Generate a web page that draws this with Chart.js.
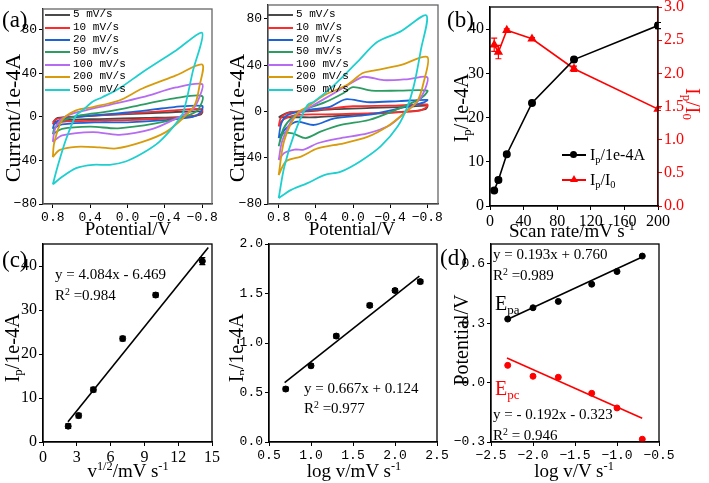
<!DOCTYPE html>
<html>
<head>
<meta charset="utf-8">
<script src="https://cdn.jsdelivr.net/npm/chart.js@4.4.0/dist/chart.umd.min.js"></script>
<style>
body{margin:0;background:#fff;width:709px;height:483px;position:relative;overflow:hidden;font-family:'Liberation Serif',serif}
canvas{position:absolute}
.t{position:absolute;white-space:nowrap;line-height:1;color:#000}
.c{transform:translate(-50%,-50%)}
.r{transform:translate(-50%,-50%) rotate(-90deg)}
.rr{transform:translate(-50%,-50%) rotate(90deg)}
.sb{font-size:0.65em;vertical-align:-0.3em}
.sp{font-size:0.65em;vertical-align:0.55em}
.lg{position:absolute;font-family:'Liberation Mono',monospace;font-size:11px;line-height:1;white-space:nowrap}
.ln{position:absolute;height:2px}
.clip{position:absolute;overflow:hidden}
</style>
</head>
<body>
<canvas id="cA1"></canvas>
<canvas id="cA2"></canvas>
<canvas id="cB"></canvas>
<canvas id="cC"></canvas>
<canvas id="cM"></canvas>
<canvas id="cD"></canvas>

<!-- panel labels and axis titles -->
<div class="t" style="left:2px;top:8px;font-size:23px">(a)</div>
<div class="t r" style="left:13px;top:118px;font-size:22px">Current/1e-4A</div>
<div class="t c" style="left:128px;top:228px;font-size:19px">Potential/V</div>
<div class="clip" style="left:220px;top:20px;width:24px;height:200px">
  <div class="t r" style="left:17px;top:98px;font-size:22px">Current/1e-4A</div>
</div>
<div class="t c" style="left:352px;top:228px;font-size:19px">Potential/V</div>

<div class="t" style="left:447px;top:8px;font-size:23px">(b)</div>
<div class="t r" style="left:462px;top:108px;font-size:20px">I<span class="sb">p</span>/1e-4A</div>
<div class="t rr" style="left:692px;top:104px;font-size:20px;color:#f00">I<span class="sb">p</span>/I<span class="sb">0</span></div>
<div class="t c" style="left:572px;top:230px;font-size:19px">Scan rate/mV s<span class="sp">-1</span></div>

<div class="t" style="left:2px;top:248px;font-size:23px">(c)</div>
<div class="t r" style="left:13px;top:348px;font-size:20px">I<span class="sb">p</span>/1e-4A</div>
<div class="t c" style="left:128px;top:470px;font-size:19px">v<span class="sp">1/2</span>/mV s<span class="sp">-1</span></div>
<div class="t" style="left:55px;top:267px;font-size:15px">y = 4.084x - 6.469</div>
<div class="t" style="left:55px;top:287px;font-size:15px">R<span class="sp">2</span> =0.984</div>

<div class="clip" style="left:220px;top:260px;width:24px;height:200px">
  <div class="t r" style="left:17px;top:88px;font-size:20px">I<span class="sb">p</span>/1e-4A</div>
</div>
<div class="t c" style="left:354px;top:470px;font-size:19px">log v/mV s<span class="sp">-1</span></div>
<div class="t" style="left:304px;top:381px;font-size:15px">y = 0.667x + 0.124</div>
<div class="t" style="left:304px;top:400px;font-size:15px">R<span class="sp">2</span> =0.977</div>

<div class="t" style="left:440px;top:246px;font-size:23px">(d)</div>
<div class="t r" style="left:461px;top:340px;font-size:20px">Potential/V</div>
<div class="t c" style="left:574px;top:470px;font-size:19px">log v/V s<span class="sp">-1</span></div>
<div class="t" style="left:493px;top:247px;font-size:15px">y = 0.193x + 0.760</div>
<div class="t" style="left:493px;top:267px;font-size:15px">R<span class="sp">2</span> =0.989</div>
<div class="t" style="left:495px;top:293px;font-size:20px">E<span class="sb">pa</span></div>
<div class="t" style="left:495px;top:378px;font-size:20px;color:#f00">E<span class="sb">pc</span></div>
<div class="t" style="left:493px;top:407px;font-size:15px">y = - 0.192x - 0.323</div>
<div class="t" style="left:493px;top:427px;font-size:15px">R<span class="sp">2</span> = 0.946</div>

<div id="legA1"></div>
<div id="legA2"></div>

<!-- panel b legend -->
<div class="ln" style="left:562px;top:154px;width:24px;background:#000"></div>
<div style="position:absolute;left:570px;top:151px;width:7px;height:7px;border-radius:50%;background:#000"></div>
<div class="t" style="left:590px;top:147px;font-size:16px">I<span class="sb">p</span>/1e-4A</div>
<div class="ln" style="left:562px;top:179px;width:24px;background:#f00"></div>
<div style="position:absolute;left:570px;top:175px;width:0;height:0;border-left:4px solid transparent;border-right:4px solid transparent;border-bottom:7px solid #f00"></div>
<div class="t" style="left:590px;top:172px;font-size:16px">I<span class="sb">p</span>/I<span class="sb">0</span></div>

<script>
// ---- (a) cyclic voltammograms, [potential V, current 1e-4A] ----
const cvLabels = ['5 mV/s', '10 mV/s', '20 mV/s', '50 mV/s', '100 mV/s', '200 mV/s', '500 mV/s'];
const cvColors = ['#4a4a4a', '#ff2b2b', '#1b63d6', '#2b9c62', '#b56cf0', '#d89b0c', '#1fcfcf'];

const cvL5 = [[0.8,-5],[0.7,-3],[0.3,-2],[-0.2,-1],[-0.6,0],[-0.78,2],[-0.8,5],[-0.4,4],[0,2.5],[0.5,0.5],[0.75,-1],[0.8,-5]];
const cvL10 = [[0.8,-7],[0.7,-4.5],[0.3,-3.5],[0,-3],[-0.4,-1.5],[-0.7,0.5],[-0.78,3],[-0.8,7],[-0.5,6],[0,3],[0.4,1],[0.7,-1],[0.78,-3],[0.8,-7]];
const cvL20 = [[0.8,-11],[0.7,-7],[0.3,-5],[0,-5],[-0.4,-3],[-0.7,0],[-0.78,4],[-0.8,10],[-0.5,9],[-0.3,7],[0,4],[0.4,1],[0.7,-2],[0.78,-6],[0.8,-11]];
const cvL50 = [[0.8,-16],[0.7,-11],[0.4,-9],[0.1,-10.5],[-0.3,-6],[-0.6,0],[-0.75,6],[-0.8,19],[-0.5,17],[-0.2,12],[0.2,5],[0.5,1.5],[0.7,-4],[0.78,-10],[0.8,-16]];
const cvL100 = [[0.8,-23],[0.7,-17],[0.37,-14],[0.09,-16.5],[-0.27,-11],[-0.52,-1.5],[-0.7,7],[-0.77,18],[-0.8,30],[-0.52,27],[-0.16,18],[0.19,11],[0.45,6],[0.62,2],[0.72,-3],[0.78,-12],[0.8,-23]];
const cvL200 = [[0.8,-37],[0.73,-30.5],[0.55,-27.5],[0.3,-28],[0.12,-29],[-0.16,-23],[-0.41,-14],[-0.59,-1.5],[-0.72,11],[-0.77,28],[-0.8,48],[-0.52,38],[-0.16,26],[0.09,15],[0.37,9],[0.55,6],[0.7,-3],[0.785,-24],[0.8,-37]];
const cvL500 = [[0.8,-62],[0.7,-55],[0.55,-47],[0.37,-44],[0.19,-44],[0.02,-41],[-0.16,-33.5],[-0.34,-23],[-0.52,-6],[-0.6,5],[-0.7,42],[-0.8,77],[-0.52,61],[-0.16,41],[0.09,26],[0.27,18],[0.37,14],[0.48,6],[0.55,1.5],[0.66,-21],[0.75,-46],[0.8,-62]];

const cvR5 = [[0.8,-5],[0.6,-5],[0.4,-5],[0.2,-4],[-0.2,-2],[-0.6,0],[-0.78,2],[-0.8,5],[-0.6,4],[-0.2,3],[0.2,2],[0.5,0],[0.7,-1],[0.8,-5]];
const cvR10 = [[0.8,-13],[0.75,-7],[0.6,-3],[0.3,-2.5],[0,-2],[-0.4,-1],[-0.7,0.5],[-0.78,3],[-0.8,6],[-0.4,5],[0,4.5],[0.3,2],[0.6,0],[0.72,-2],[0.78,-6],[0.8,-13]];
const cvR20 = [[0.8,-23],[0.72,-14.5],[0.6,-8.8],[0.42,-11.7],[0.2,-5.9],[-0.155,-3],[-0.51,2.8],[-0.68,6],[-0.77,8],[-0.8,10],[-0.5,9],[-0.15,8],[0.08,10.5],[0.25,4],[0.5,1],[0.7,-3],[0.77,-10],[0.8,-23]];
const cvR50 = [[0.8,-30],[0.75,-19],[0.65,-19],[0.51,-23],[0.35,-17.5],[0.13,-11.7],[-0.17,-7.4],[-0.46,1.3],[-0.7,10],[-0.77,14],[-0.8,18],[-0.5,18],[-0.2,18],[0,21],[0.1,16],[0.3,8],[0.5,2],[0.65,-5],[0.75,-15],[0.8,-30]];
const cvR100 = [[0.8,-42],[0.74,-36],[0.63,-33],[0.53,-33],[0.38,-27.5],[0.13,-23],[-0.155,-19],[-0.4,-11.7],[-0.57,0],[-0.7,9],[-0.77,18],[-0.8,29.6],[-0.6,28],[-0.33,27],[-0.12,30],[-0.01,26],[0.2,16],[0.455,4],[0.63,-4.5],[0.76,-25],[0.8,-42]];
const cvR200 = [[0.8,-55],[0.72,-43],[0.56,-39],[0.38,-32],[0.1,-27.5],[-0.155,-22],[-0.37,-13],[-0.55,-1.6],[-0.69,8.5],[-0.76,25],[-0.8,47],[-0.51,40],[-0.2,35],[-0.1,33],[0.06,23],[0.31,14],[0.49,4],[0.6,-1.6],[0.74,-25],[0.8,-55]];
const cvR500 = [[0.8,-75],[0.67,-68],[0.49,-62],[0.31,-55],[0.13,-52],[-0.08,-43],[-0.3,-30],[-0.48,-13],[-0.585,4],[-0.66,24],[-0.73,53],[-0.79,83],[-0.51,69],[-0.26,60],[-0.05,43],[0.2,23],[0.42,8.5],[0.49,5.6],[0.63,-19],[0.74,-48],[0.8,-75]];

const cvTicksX = [0.8, 0.4, 0, -0.4, -0.8];
const cvTicksY = [-80, -40, 0, 40, 80];

// ---- (b) peak current and ratio vs scan rate ----
const scanRate = [5, 10, 20, 50, 100, 200];
const peakCurrent = [3.5, 5.9, 11.7, 23.3, 33.1, 40.8];
const peakErr = [0.4, 0.5, 0.5, 0.5, 0.5, 0.7];
const peakRatio = [2.43, 2.32, 2.65, 2.52, 2.07, 1.46];
const ratioErr = [0.1, 0.1, 0.02, 0.02, 0.04, 0.02];
const bTicksX = [0, 40, 80, 120, 160, 200];
const bTicksY = [0, 10, 20, 30, 40];
const bTicksY2 = [0, 0.5, 1, 1.5, 2, 2.5, 3];

// ---- (c) Ip vs v^1/2 ----
const sqrtRate = [2.236, 3.162, 4.472, 7.071, 10, 14.142];
const cCurrent = [3.6, 6.0, 11.9, 23.5, 33.4, 41.1];
const cErr = [0.5, 0.5, 0.5, 0.5, 0.5, 0.8];
const cFit = [[2.22, 4.6], [14.67, 44.2]];
const cTicksX = [0, 3, 6, 9, 12, 15];
const cTicksY = [0, 10, 20, 30, 40];

// ---- log Ip vs log v ----
const logRate = [0.699, 1, 1.301, 1.699, 2, 2.301];
const logCurrent = [0.535, 0.77, 1.07, 1.38, 1.53, 1.62];
const logErr = [0.02, 0.02, 0.02, 0.02, 0.02, 0.02];
const mFit = [[0.686, 0.60], [2.29, 1.675]];
const mTicksX = [0.5, 1, 1.5, 2, 2.5];
const mTicksY = [0, 0.5, 1, 1.5, 2];

// ---- (d) peak potentials vs log v ----
const logRateV = [-2.301, -2, -1.699, -1.301, -1, -0.699];
const epa = [0.321, 0.378, 0.41, 0.497, 0.561, 0.639];
const epc = [0.087, 0.032, 0.027, -0.054, -0.128, -0.286];
const epaFit = [[-2.3, 0.32], [-0.7, 0.634]];
const epcFit = [[-2.31, 0.124], [-0.7, -0.18]];
const dTicksX = [-2.5, -2, -1.5, -1, -0.5];
const dTicksY = [-0.3, 0, 0.3, 0.6];

// ---------------------------------------------------------------
const frame = {
  id: 'frame',
  afterDraw(chart, args, opts) {
    const a = chart.chartArea, ctx = chart.ctx;
    ctx.save();
    ctx.strokeStyle = opts.color || '#000';
    ctx.lineWidth = 1.3;
    ctx.strokeRect(a.left, a.top, a.right - a.left, a.bottom - a.top);
    ctx.restore();
  }
};
const errorBars = {
  id: 'errorBars',
  afterDatasetsDraw(chart) {
    const ctx = chart.ctx;
    chart.data.datasets.forEach((ds, i) => {
      if (!ds.errors) return;
      const meta = chart.getDatasetMeta(i);
      const ys = chart.scales[meta.yAxisID];
      ctx.save();
      ctx.strokeStyle = ds.borderColor;
      ctx.lineWidth = 1.2;
      meta.data.forEach((pt, j) => {
        const v = ds.data[j].y, e = ds.errors[j];
        const y1 = ys.getPixelForValue(v + e), y2 = ys.getPixelForValue(v - e);
        ctx.beginPath();
        ctx.moveTo(pt.x, y1); ctx.lineTo(pt.x, y2);
        ctx.moveTo(pt.x - 3, y1); ctx.lineTo(pt.x + 3, y1);
        ctx.moveTo(pt.x - 3, y2); ctx.lineTo(pt.x + 3, y2);
        ctx.stroke();
      });
      ctx.restore();
    });
  }
};
Chart.register(frame, errorBars);

const mono = { family: 'Liberation Mono', size: 13 };
const serif = { family: 'Liberation Serif', size: 16 };
const minus = s => String(s).replace('-', '\u2212');
const f1 = v => minus(v.toFixed(1));

function scale(min, max, ticks, size, o = {}) {
  const col = o.color || '#000';
  return Object.assign({
    type: 'linear', min, max,
    afterBuildTicks: s => { s.ticks = ticks.map(v => ({ value: v })); },
    afterFit: s => { if (s.isHorizontal()) s.height = size; else s.width = size; },
    grid: { drawOnChartArea: false, tickLength: 4, color: col },
    border: { color: col, width: 1.2 },
    ticks: { color: col, font: o.font || mono, padding: 2, callback: o.fmt || (v => minus(v)) }
  }, o.extra || {});
}

function place(id, r, pad) {
  const c = document.getElementById(id);
  c.width = r[2] - r[0] + pad[0] + pad[1];
  c.height = r[3] - r[1] + pad[2] + pad[3];
  c.style.left = (r[0] - pad[0]) + 'px';
  c.style.top = (r[1] - pad[2]) + 'px';
  return c;
}

function base(pad, frameColor, rightPad) {
  return {
    responsive: false, animation: false, devicePixelRatio: 1, events: [],
    layout: { padding: { top: pad[2], right: rightPad, left: 0, bottom: 0 } },
    plugins: { legend: { display: false }, tooltip: { enabled: false }, frame: { color: frameColor } }
  };
}

const pts = (xs, ys) => xs.map((x, i) => ({ x, y: ys[i] }));
const pairs = a => a.map(p => ({ x: p[0], y: p[1] }));

function cvChart(id, r, loops, ymax, xr) {
  const pad = [45, 26, 12, 22];
  const opts = base(pad, '#666', pad[1]);
  opts.scales = {
    x: scale(-xr, xr, cvTicksX, pad[3], { fmt: f1, extra: { reverse: true } }),
    y: scale(-80, ymax, cvTicksY, pad[0])
  };
  new Chart(place(id, r, pad), {
    type: 'scatter',
    data: {
      datasets: loops.map((l, i) => ({
        label: cvLabels[i], data: pairs(l), showLine: true, borderColor: cvColors[i],
        borderWidth: 1.8, pointRadius: 0, tension: 0.3, order: loops.length - i
      }))
    },
    options: opts
  });
}

cvChart('cA1', [43, 9, 212, 204], [cvL5, cvL10, cvL20, cvL50, cvL100, cvL200, cvL500], 99, 0.905);
cvChart('cA2', [268, 5, 438, 204], [cvR5, cvR10, cvR20, cvR50, cvR100, cvR200, cvR500], 92, 0.915);

function legend(id, x0, lineW) {
  const el = document.getElementById(id);
  const rows = [15, 27.7, 40, 52.3, 65, 77.3, 90];
  el.innerHTML = cvLabels.map((lab, i) =>
    '<div class="ln" style="left:' + x0 + 'px;top:' + (rows[i] - 1) + 'px;width:' + lineW + 'px;background:' + cvColors[i] + '"></div>' +
    '<div class="lg" style="left:' + (x0 + lineW + 3) + 'px;top:' + (rows[i] - 6) + 'px">' + lab + '</div>'
  ).join('');
}
legend('legA1', 45, 25);
legend('legA2', 268, 25);

// (b)
{
  const pad = [45, 50, 12, 22];
  const opts = base(pad, '#000', 0);
  opts.scales = {
    x: scale(0, 200, bTicksX, pad[3], { font: serif }),
    y: scale(0, 45, bTicksY, pad[0], { font: serif }),
    y2: scale(0, 3, bTicksY2, pad[1], { font: serif, color: '#f00', fmt: f1, extra: { position: 'right' } })
  };
  new Chart(place('cB', [490, 7, 658, 206], pad), {
    type: 'scatter',
    data: {
      datasets: [
        { data: pts(scanRate, peakCurrent), errors: peakErr, showLine: true, borderColor: '#000', backgroundColor: '#000',
          borderWidth: 1.6, pointRadius: 3.2, yAxisID: 'y' },
        { data: pts(scanRate, peakRatio), errors: ratioErr, showLine: true, borderColor: '#f00', backgroundColor: '#f00',
          borderWidth: 1.6, pointRadius: 3.8, pointStyle: 'triangle', yAxisID: 'y2' }
      ]
    },
    options: opts
  });
}

// (c)
{
  const pad = [43, 26, 12, 22];
  const opts = base(pad, '#000', pad[1]);
  opts.scales = {
    x: scale(0, 15, cTicksX, pad[3], { font: serif }),
    y: scale(0, 45, cTicksY, pad[0], { font: serif })
  };
  new Chart(place('cC', [43, 244, 212, 442], pad), {
    type: 'scatter',
    data: {
      datasets: [
        { data: pts(sqrtRate, cCurrent), errors: cErr, borderColor: '#000', backgroundColor: '#000', pointRadius: 3 },
        { data: pairs(cFit), showLine: true, borderColor: '#000', borderWidth: 1.6, pointRadius: 0 }
      ]
    },
    options: opts
  });
}

// log Ip vs log v
{
  const pad = [45, 26, 12, 22];
  const opts = base(pad, '#000', pad[1]);
  opts.scales = {
    x: scale(0.5, 2.5, mTicksX, pad[3], { fmt: f1 }),
    y: scale(0, 2, mTicksY, pad[0], { fmt: f1 })
  };
  new Chart(place('cM', [269, 244, 437, 442], pad), {
    type: 'scatter',
    data: {
      datasets: [
        { data: pts(logRate, logCurrent), errors: logErr, borderColor: '#000', backgroundColor: '#000', pointRadius: 3 },
        { data: pairs(mFit), showLine: true, borderColor: '#000', borderWidth: 1.6, pointRadius: 0 }
      ]
    },
    options: opts
  });
}

// (d)
{
  const pad = [45, 26, 12, 22];
  const opts = base(pad, '#000', pad[1]);
  opts.scales = {
    x: scale(-2.5, -0.5, dTicksX, pad[3], { fmt: f1 }),
    y: scale(-0.3, 0.7, dTicksY, pad[0], { fmt: f1 })
  };
  new Chart(place('cD', [491, 244, 659, 442], pad), {
    type: 'scatter',
    data: {
      datasets: [
        { data: pts(logRateV, epa), borderColor: '#000', backgroundColor: '#000', pointRadius: 3 },
        { data: pairs(epaFit), showLine: true, borderColor: '#000', borderWidth: 1.6, pointRadius: 0 },
        { data: pts(logRateV, epc), borderColor: '#f00', backgroundColor: '#f00', pointRadius: 3 },
        { data: pairs(epcFit), showLine: true, borderColor: '#f00', borderWidth: 1.6, pointRadius: 0 }
      ]
    },
    options: opts
  });
}
</script>
</body>
</html>
